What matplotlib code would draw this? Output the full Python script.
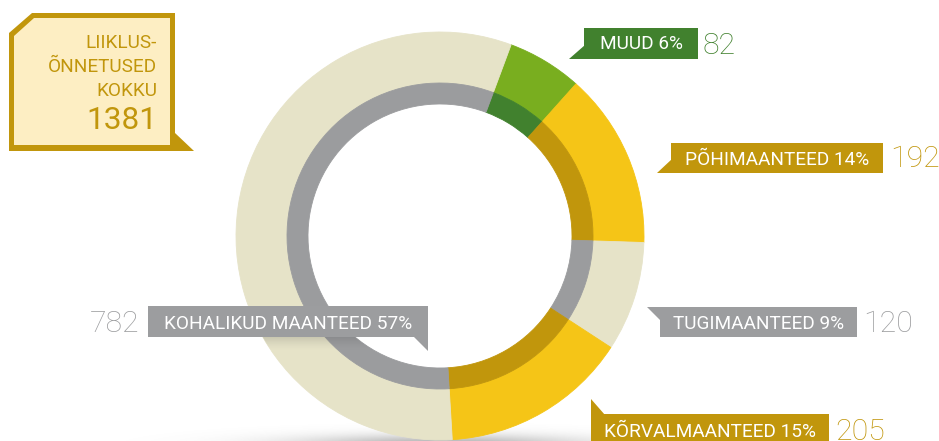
import numpy as np
import matplotlib
matplotlib.use("Agg")
import matplotlib.pyplot as plt
from matplotlib.patches import Polygon, Wedge

# Road accidents by road type
categories = ["MUUD", "PÕHIMAANTEED", "TUGIMAANTEED", "KÕRVALMAANTEED", "KOHALIKUD MAANTEED"]
counts = [82, 192, 120, 205, 782]
percents = [6, 14, 9, 15, 57]
total = 1381
total_lines = ["LIIKLUS-", "ÕNNETUSED", "KOKKU"]

outer_colors = ["#79ae1f", "#f5c517", "#e6e3c8", "#f5c517", "#e6e3c8"]
inner_colors = ["#41812e", "#c1960c", "#9b9c9e", "#c1960c", "#9b9c9e"]
label_colors = ["#41812e", "#c1960c", "#9c9d9f", "#c1960c", "#9c9d9f"]

W, H = 939, 441
FONT = "Roboto"


def Y(y):
    """Convert a top-down pixel row into axis units."""
    return H - y


fig = plt.figure(figsize=(W / 100, H / 100), dpi=100)
ax = fig.add_axes([0, 0, 1, 1])
ax.set_axis_off()

cx, cy = 440, 236
r_out, r_mid, r_in = 204, 153, 132

gx = np.linspace(0, W, 940)
gy = np.linspace(0, H, 442)
GX, GY = np.meshgrid(gx, gy)

# soft shadow under the ring
alpha = 0.50 * np.exp(-((GX - cx) / 145.0) ** 2 - ((GY - Y(445)) / 10.0) ** 2)
rgba = np.zeros(GX.shape + (4,))
rgba[..., :3] = 0.40
rgba[..., 3] = alpha
ax.imshow(rgba, extent=(0, W, 0, H), origin="lower", zorder=0, interpolation="bilinear")

start = 90 - 20.4
outer, _ = ax.pie(counts, radius=r_out, center=(cx, Y(cy)), startangle=start,
                  counterclock=False, colors=outer_colors,
                  wedgeprops=dict(width=r_out - r_mid, linewidth=0.6))
inner, _ = ax.pie(counts, radius=r_mid, center=(cx, Y(cy)), startangle=start,
                  counterclock=False, colors=inner_colors,
                  wedgeprops=dict(width=r_mid - r_in, linewidth=0.6))
for w in list(outer) + list(inner):
    w.set_edgecolor(w.get_facecolor())

# callout boxes: (x0, x1, y_top, y_bottom), pointer triangle, text baseline, value pos
boxes = [
    dict(box=(584, 698, 28, 59), tri=[(569, 59), (585, 59), (585, 45)],
         base=49, val=(703, 54, "left")),
    dict(box=(671, 883, 143, 173), tri=[(657, 173), (672, 173), (672, 159)],
         base=165, val=(890, 167, "left")),
    dict(box=(660, 857, 307, 337), tri=[(647, 307), (661, 307), (661, 321)],
         base=329, val=(863, 332, "left")),
    dict(box=(591, 829, 414, 445), tri=[(591, 399), (591, 415), (605, 415)],
         base=437, val=(835, 439.5, "left")),
    dict(box=(148, 428, 306, 337), tri=[(413, 336), (428, 336), (428, 351)],
         base=329, val=(139, 332, "right")),
]

# shade cast by the left callout onto the ring
ring = Wedge((cx, Y(cy)), r_out, 0, 360, width=r_out - r_in, transform=ax.transData)
x0, x1, yt, yb = boxes[4]["box"]
sh = np.clip((Y(yb) - GY) / 14.0, 0, 1)
sh_alpha = np.where((GY <= Y(yb)) & (GX >= x0) & (GX <= x1 + 4), 0.18 * (1 - sh) ** 1.5, 0)
srgba = np.zeros(GX.shape + (4,))
srgba[..., :3] = 0.25
srgba[..., 3] = sh_alpha
simg = ax.imshow(srgba, extent=(0, W, 0, H), origin="lower", zorder=3,
                 interpolation="bilinear")
simg.set_clip_path(ring)
ax.set_xlim(0, W)
ax.set_ylim(0, H)
ax.set_aspect("auto")

for i, b in enumerate(boxes):
    x0, x1, yt, yb = b["box"]
    col = label_colors[i]
    ax.add_patch(Polygon([(x0, Y(yt)), (x1, Y(yt)), (x1, Y(yb)), (x0, Y(yb))],
                         closed=True, facecolor=col, edgecolor="none", zorder=5))
    ax.add_patch(Polygon([(x, Y(y)) for x, y in b["tri"]], closed=True,
                         facecolor=col, edgecolor="none", zorder=5))
    ax.text((x0 + x1) / 2, Y(b["base"]), f"{categories[i]} {percents[i]}%",
            ha="center", va="baseline", color="white", fontsize=13.7,
            family=FONT, zorder=6)
    vx, vy, ha = b["val"]
    ax.text(vx, Y(vy), f"{counts[i]}", ha=ha, va="baseline", color=col,
            fontsize=21.8, family=FONT, fontweight="light", zorder=6)

# total box
gold = "#c1960c"
ax.add_patch(Polygon([(32, Y(13)), (175, Y(13)), (175, Y(133)), (194, Y(151)),
                      (9, Y(151)), (9, Y(33))], closed=True,
                     facecolor=gold, edgecolor="none", zorder=5))
ax.add_patch(Polygon([(34, Y(18)), (170, Y(18)), (170, Y(145)), (14, Y(145)),
                      (14, Y(36))], closed=True,
                     facecolor="#fdeec3", edgecolor="none", zorder=5))
for k, line in enumerate(total_lines):
    ax.text(157, Y(48 + 24 * k), line, ha="right", va="baseline", color=gold,
            fontsize=13.7, family=FONT, zorder=6)
ax.text(157, Y(129), f"{total}", ha="right", va="baseline", color=gold,
        fontsize=22.8, family=FONT, zorder=6)

fig.savefig("out.png", dpi=100)
